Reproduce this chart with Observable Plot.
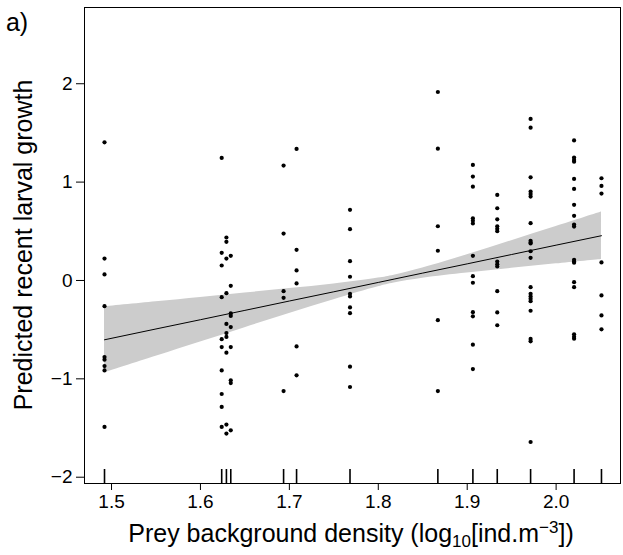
<!DOCTYPE html>
<html><head><meta charset="utf-8">
<script src="https://cdn.jsdelivr.net/npm/d3@7"></script>
<script src="https://cdn.jsdelivr.net/npm/@observablehq/plot@0.6"></script>
<style>body{margin:0;background:#fff} #chart{width:623px;height:555px}</style>
</head><body><div id="chart"></div>
<script>
// Prey background density levels (log10 ind.m^-3), one per sampling group (rug ticks)
const densityLevels = [1.4921, 1.6239, 1.6292, 1.6341, 1.6935, 1.7081, 1.7682, 1.867, 1.9064, 1.9338, 1.9713, 2.0202, 2.051];
// Predicted recent larval growth for each density level
const growthByLevel = [
  [1.404, 0.223, 0.061, -0.261, -0.779, -0.805, -0.870, -0.914, -1.489],
  [1.246, 0.281, 0.152, -0.170, -0.597, -0.677, -0.914, -1.154, -1.286, -1.489],
  [0.437, 0.393, 0.223, -0.129, -0.442, -0.535, -0.574, -0.734, -1.465, -1.556],
  [0.251, -0.054, -0.335, -0.360, -0.474, -0.677, -1.015, -1.043, -1.523],
  [1.168, 0.477, -0.109, -0.176, -1.124],
  [1.337, 0.312, 0.102, -0.030, -0.670, -0.964],
  [0.718, 0.521, 0.196, 0.038, -0.135, -0.162, -0.274, -0.332, -0.876, -1.083],
  [1.916, 1.340, 0.551, 0.302, -0.404, -1.124],
  [1.175, 1.056, 0.954, 0.632, 0.606, 0.579, 0.251, 0.044, -0.023, -0.322, -0.365, -0.653, -0.901],
  [0.870, 0.734, 0.622, 0.551, 0.525, 0.501, 0.193, 0.165, 0.142, -0.109, -0.325, -0.455],
  [1.642, 1.553, 1.049, 0.904, 0.880, 0.853, 0.582, 0.403, 0.386, 0.376, 0.297, 0.230, -0.068, -0.135, -0.162, -0.186, -0.210, -0.308, -0.594, -0.619, -1.642],
  [1.424, 1.249, 1.225, 1.208, 1.032, 0.931, 0.769, 0.657, 0.569, 0.548, 0.210, 0.193, 0.180, -0.017, -0.068, -0.548, -0.572, -0.592],
  [1.039, 0.961, 0.883, 0.183, -0.152, -0.355, -0.497]
];
// Fitted line and confidence band
const fitX  = [1.4921, 1.55, 1.6, 1.65, 1.7, 1.75, 1.8, 1.8178, 1.85, 1.9, 1.95, 2.0, 2.051];
const fitY  = [-0.603, -0.493, -0.399, -0.304, -0.209, -0.115, -0.020, 0.014, 0.075, 0.169, 0.264, 0.359, 0.455];
const fitLo = [-0.938, -0.770, -0.625, -0.480, -0.336, -0.195, -0.064, -0.026, 0.023, 0.076, 0.123, 0.169, 0.214];
const fitHi = [-0.268, -0.217, -0.173, -0.128, -0.082, -0.035, 0.024, 0.054, 0.127, 0.262, 0.405, 0.549, 0.697];
const xTicks = [1.5, 1.6, 1.7, 1.8, 1.9, 2.0];
const yTicks = [-2, -1, 0, 1, 2];

const points = densityLevels.flatMap((x, i) => growthByLevel[i].map(y => ({x, y})));
const band = fitX.map((x, i) => ({x, fit: fitY[i], lo: fitLo[i], hi: fitHi[i]}));

const W = 623, H = 555, mt = 7, mb = 72, ml = 84, mr = 3;
const frameH = H - mt - mb;
const font = "'Liberation Sans', Arial, Helvetica, sans-serif";
const plot = Plot.plot({
  width: W, height: H, marginTop: mt, marginBottom: mb, marginLeft: ml, marginRight: mr,
  style: {fontFamily: font, fontSize: "19px", background: "#fff", color: "#000"},
  x: {domain: [1.4696, 2.0724]},
  y: {domain: [-2.064, 2.775]},
  marks: [
    Plot.areaY(band, {x: "x", y1: "lo", y2: "hi", fill: "#cccccc", curve: "catmull-rom"}),
    Plot.line(band, {x: "x", y: "fit", stroke: "#000", strokeWidth: 1}),
    Plot.dot(points, {x: "x", y: "y", r: 2.1, fill: "#000", stroke: "none"}),
    Plot.tickX(densityLevels, {x: d => d, stroke: "#000", strokeWidth: 1.6, insetTop: frameH - 14}),
    Plot.frame({stroke: "#000", strokeWidth: 1}),
    Plot.axisX({ticks: xTicks, tickSize: 7, tickPadding: 4, label: null, tickFormat: d3.format(".1f"), fontSize: 19}),
    Plot.axisY({ticks: yTicks, tickSize: 8, tickPadding: 4, label: null, tickFormat: d3.format("d"), fontSize: 19})
  ]
});

const svg = d3.select(plot);
svg.append("text").attr("x", 17).attr("y", 31).attr("font-size", 25).attr("font-family", font).attr("fill", "#000").text("a)");
svg.append("text").attr("transform", "translate(32,245) rotate(-90)").attr("text-anchor", "middle")
  .attr("font-size", 25).attr("font-family", font).attr("fill", "#000").text("Predicted recent larval growth");
const xl = svg.append("text").attr("x", 351).attr("y", 542).attr("text-anchor", "middle")
  .attr("font-size", 25).attr("font-family", font).attr("fill", "#000");
xl.append("tspan").text("Prey background density (log");
xl.append("tspan").attr("dy", 5).attr("font-size", 17).text("10");
xl.append("tspan").attr("dy", -5).text("[ind.m");
xl.append("tspan").attr("dy", -9).attr("font-size", 17).text("\u22123");
xl.append("tspan").attr("dy", 9).text("])");

document.getElementById("chart").appendChild(plot);
</script>
</body></html>
